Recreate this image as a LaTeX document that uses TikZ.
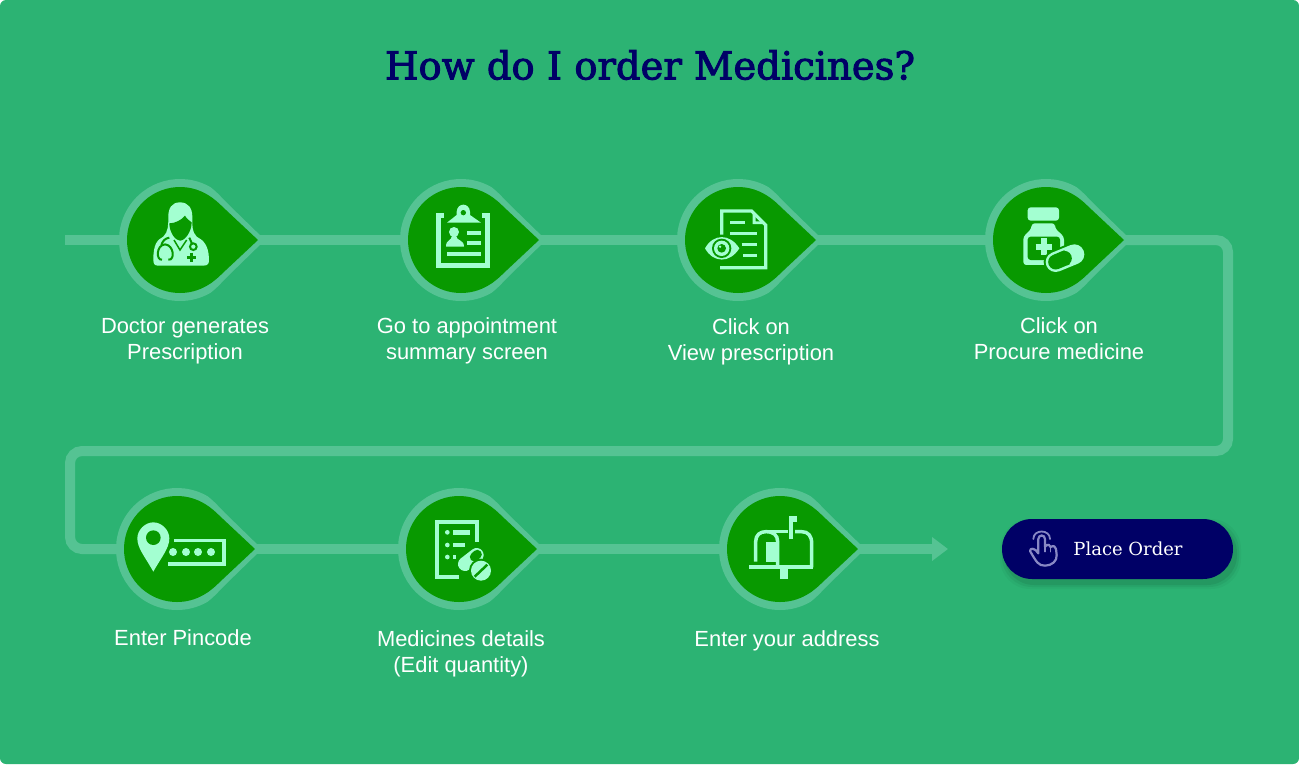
\documentclass[tikz,border=0pt]{standalone}
\usepackage{fontspec}
\setmainfont{Liberation Sans}
\newfontfamily\slabfont{DejaVu Serif}
\newfontfamily\titlefont[FakeBold=2.5]{DejaVu Serif}
\usetikzlibrary{positioning, calc, arrows.meta}

\tikzset{
    droppin/.pic={
        \fill[ringgreen] (85pt,0pt) -- (48pt,36pt) .. controls (42pt,42pt) and (38pt,47pt) .. (60:61pt) arc (60:300:61pt) .. controls (38pt,-47pt) and (42pt,-42pt) .. (48pt,-36pt) -- cycle;
        \fill[pingreen] (78pt,0pt) -- (46pt,30pt) .. controls (38pt,37.5pt) and (35pt,41pt) .. (60:53pt) arc (60:300:53pt) .. controls (35pt,-41pt) and (38pt,-37.5pt) .. (46pt,-30pt) -- cycle;
    },
    iconbox/.style 2 args={shift={(#1,-#2)}, x=0.3333pt, y=-0.3333pt},
    iconfill/.style={fill=mint},
    holefill/.style={fill=pingreen},
    iconline/.style={draw=mint, line width=#1},
    holeline/.style={draw=pingreen, line width=#1},
    steplabel/.style={text=white, align=center, font=\fontsize{21.9}{26}\selectfont}
}

\begin{document}
\begin{tikzpicture}[x=1pt, y=1pt]
    % Colours
    \definecolor{bggreen}{RGB}{44, 179, 115}
    \definecolor{ringgreen}{RGB}{85, 195, 147}
    \definecolor{pingreen}{RGB}{8, 153, 0}
    \definecolor{mint}{RGB}{163, 255, 209}
    \definecolor{navybtn}{RGB}{0, 0, 102}
    \definecolor{handcol}{RGB}{136, 136, 196}

    % 1. Background
    \useasboundingbox (0,0) rectangle (1299,-764);
    \fill[bggreen, rounded corners=6pt] (0,0) rectangle (1299,-764);

    % 2. Title
    \node[text=navybtn, font=\titlefont\fontsize{38.5}{44}\selectfont] (title) at (650,-65) {How do I order Medicines?};

    % 3. Pin positions and turning points of the line
    \coordinate (lineStart) at (65,-240);
    \coordinate (doctor) at (180,-240);
    \coordinate (clipboard) at (461,-240);
    \coordinate (viewdoc) at (738,-240);
    \coordinate (bottle) at (1046,-240);
    \coordinate (turnA) at (1228,-451);
    \coordinate (turnB) at (70,-451);
    \coordinate (pincode) at (177,-549);
    \coordinate (medlist) at (459,-549);
    \coordinate (mailbox) at (780,-549);
    \coordinate (arrowEnd) at (948,-549);

    % 4. Connecting line
    \draw[ringgreen, line width=10pt] (lineStart) -- (doctor) -- (clipboard) -- (viewdoc) -- (bottle);
    \draw[ringgreen, line width=10pt, rounded corners=12pt] (bottle) -| (turnA) -- (turnB) |- (pincode);
    \draw[ringgreen, line width=10pt] (pincode) -- (medlist) -- (mailbox);
    \draw[ringgreen, line width=10pt, -{Triangle[length=16pt, width=23pt]}] (mailbox) -- (arrowEnd);

    % 5. Pins
    \foreach \p in {doctor, clipboard, viewdoc, bottle, pincode, medlist, mailbox} {
        \pic at (\p) {droppin};
    }

    % 6. Step labels
    \node[steplabel] (lblDoctor) at (185,-341) {Doctor generates\\Prescription};
    \node[steplabel] (lblClipboard) at (467,-341) {Go to appointment\\summary screen};
    \node[steplabel] (lblView) at (751,-342) {Click on\\View prescription};
    \node[steplabel] (lblProcure) at (1059,-339) {Click on\\Procure medicine};
    \node[steplabel] (lblPincode) at (183,-638) {Enter Pincode};
    \node[steplabel] (lblMedlist) at (461,-653.5) {Medicines details\\(Edit quantity)};
    \node[steplabel] (lblAddress) at (787,-640.5) {Enter your address};

    % 7. Button with soft shadow
    \foreach \g/\o in {5/0.03, 3/0.05, 1/0.07} {
        \fill[black, opacity=\o, rounded corners=30pt] (1002+3-\g,-519-5+\g) rectangle (1233+3+\g,-579-5-\g);
    }
    \node[fill=navybtn, rounded corners=30pt, minimum width=231pt, minimum height=60pt, inner sep=0pt] (placeBtn) at (1117.5,-549) {};
    \node[text=white, font=\slabfont\fontsize{18}{22}\selectfont] (placeLbl) at (1128,-549) {Place Order};

    % 8. Icons, each drawn in a 3x grid of its own
    % Doctor
    \begin{scope}[iconbox={140}{195}]
        \fill[iconfill] (120,22) .. controls (95,22) and (85,40) .. (85,65) .. controls (85,90) and (85,110) .. (70,125) .. controls (50,135) and (40,150) .. (40,195) .. controls (40,208) and (45,212) .. (55,212) -- (190,212) .. controls (205,212) and (208,205) .. (207,190) .. controls (205,150) and (190,135) .. (170,125) .. controls (155,110) and (157,90) .. (157,65) .. controls (157,40) and (145,22) .. (120,22) -- cycle;
        \fill[holefill] (88,85) .. controls (105,85) and (125,75) .. (135,62) .. controls (140,72) and (150,78) .. (155,82) .. controls (155,110) and (135,137) .. (120,137) .. controls (105,137) and (88,110) .. (88,85) -- cycle;
        \draw[holeline=1.5pt] (102,135) -- (120,165) -- (140,135);
        \draw[holeline=2pt] (88,128) .. controls (75,130) and (68,138) .. (64,150);
        \draw[holeline=2pt] (75,148) .. controls (48,150) and (48,197) .. (66,194);
        \draw[holeline=2pt] (75,148) .. controls (102,150) and (106,197) .. (85,194);
        \draw[holeline=2pt, fill=mint] (160,155) circle[radius=10];
        \draw[holeline=2pt] (148,128) -- (156,146);
        \draw[holeline=2.8pt] (141,187) -- (169,187);
        \draw[holeline=2.8pt] (155,173) -- (155,201);
    \end{scope}

    % Clipboard
    \begin{scope}[iconbox={425}{195}]
        \draw[iconline=5.5pt] (56,62) -- (41,62) -- (41,211) -- (187,211) -- (187,62) -- (172,62);
        \fill[iconfill] (66,83) -- (95,60) -- (95,50) .. controls (97,22) and (133,22) .. (135,50) -- (135,60) -- (168,83) -- cycle;
        \fill[holefill] (115,53) circle[radius=8];
        \fill[iconfill] (87,111) circle[radius=15];
        \fill[iconfill] (63,155) .. controls (63,133) and (80,138) .. (81,122) -- (93,122) .. controls (94,138) and (117,133) .. (117,155) -- cycle;
        \draw[iconline=4pt] (126,114) -- (168,114);
        \draw[iconline=4pt] (126,144) -- (168,144);
        \draw[iconline=4.5pt] (66,177) -- (168,177);
    \end{scope}

    % Document with eye
    \begin{scope}[iconbox={700}{200}]
        \draw[iconline=3.3pt] (65,118) -- (65,33) -- (155,33) -- (197,75) -- (197,203) -- (60,203);
        \fill[iconfill] (158,33) -- (158,72) -- (197,72) -- (190,64) -- (167,64) -- (167,42) -- cycle;
        \draw[iconline=3.5pt] (90,67) -- (135,67);
        \draw[iconline=3.5pt] (90,100) -- (170,100);
        \draw[iconline=3.5pt] (125,133) -- (170,133);
        \draw[iconline=3.5pt] (130,167) -- (170,167);
        \fill[holefill] (5,145) .. controls (35,90) and (95,90) .. (128,145) .. controls (95,200) and (35,200) .. (5,145) -- cycle;
        \fill[iconfill] (15,145) .. controls (40,100) and (90,100) .. (118,145) .. controls (90,190) and (40,190) .. (15,145) -- cycle;
        \fill[holefill] (65,145) circle[radius=29];
        \fill[iconfill] (65,145) circle[radius=23];
        \fill[holefill] (65,145) circle[radius=13];
        \fill[iconfill] (60,140) circle[radius=4];
    \end{scope}

    % Bottle and capsule
    \begin{scope}[iconbox={1015}{200}]
        \fill[iconfill, rounded corners=3pt] (38,22) rectangle (132,62);
        \fill[iconfill, rounded corners=3pt] (50,70) -- (120,70) -- (120,85) -- (147,110) -- (147,195) -- (25,195) -- (25,110) -- (50,85) -- cycle;
        \fill[holefill, rounded corners=3pt] (38,110) rectangle (135,180);
        \draw[iconline=6pt] (87,115) -- (87,165);
        \draw[iconline=6pt] (62,140) -- (112,140);
        \draw[holeline=24pt, line cap=round] (122,186) -- (178,163);
        \draw[iconline=20pt, line cap=round] (122,186) -- (178,163);
        \draw[holeline=15pt, line cap=round] (122,186) -- (148,175);
        \draw[holeline=15pt] (148,175) -- (156,172);
    \end{scope}

    % Map pin and code box
    \begin{scope}[iconbox={130}{515}]
        \fill[iconfill] (70,170) .. controls (45,125) and (22,100) .. (22,70) .. controls (22,45) and (45,22) .. (70,22) .. controls (95,22) and (118,45) .. (118,70) .. controls (118,100) and (95,125) .. (70,170) -- cycle;
        \fill[holefill] (70,68) circle[radius=22];
        \draw[iconline=3.3pt] (132,76) -- (282,76) -- (282,147) -- (114,147);
        \foreach \dx in {129,168,204,243} {
            \fill[iconfill] (\dx,111) circle[radius=12];
        }
    \end{scope}

    % Prescription list and pills
    \begin{scope}[iconbox={425}{510}]
        \draw[iconline=4pt] (102,201) -- (36,201) -- (36,36) -- (156,36) -- (156,96);
        \foreach \ly in {67,105,141} {
            \fill[iconfill] (67,\ly) circle[radius=7];
        }
        \draw[iconline=4.5pt] (84,67) -- (135,67);
        \draw[iconline=4.5pt] (84,105) -- (120,105);
        \draw[iconline=3.5pt] (84,141) -- (92,141);
        \draw[holeline=18pt, line cap=round] (120,162) -- (155,135);
        \draw[iconline=14pt, line cap=round] (120,162) -- (155,135);
        \draw[holeline=9pt, line cap=round] (148,141) -- (157,133);
        \fill[holefill] (168,182) circle[radius=36];
        \fill[iconfill] (168,182) circle[radius=30];
        \draw[holeline=2.5pt] (149,200) -- (187,164);
    \end{scope}

    % Mailbox
    \begin{scope}[iconbox={740}{510}]
        \draw[iconline=3.5pt] (47,155) -- (47,95) .. controls (47,75) and (60,65) .. (78,65) .. controls (100,65) and (113,75) .. (113,95) -- (113,172);
        \draw[iconline=3.5pt] (78,65) -- (145,65);
        \draw[iconline=3.5pt] (165,65) -- (185,65) .. controls (205,65) and (215,78) .. (215,100) -- (215,172);
        \draw[iconline=4pt] (28,172) -- (218,172);
        \fill[iconfill] (78,95) rectangle (107,155);
        \fill[iconfill] (120,178) rectangle (145,208);
        \draw[iconline=4pt] (152,88) -- (152,25);
        \fill[iconfill] (146,18) rectangle (170,35);
    \end{scope}

    % Hand on the button
    \begin{scope}[iconbox={1020}{525}]
        \draw[handcol, line width=2.2pt, line join=round, line cap=round] (55,85) -- (55,42) .. controls (55,28) and (75,28) .. (75,42) -- (75,65) .. controls (85,55) and (90,60) .. (92,66) .. controls (100,60) and (108,65) .. (108,72) -- (110,90) .. controls (112,108) and (95,122) .. (75,122) .. controls (55,122) and (50,112) .. (30,78) .. controls (30,68) and (45,68) .. (55,85) -- cycle;
        \draw[handcol, line width=1.5pt, line cap=round] (75,65) -- (75,80);
        \draw[handcol, line width=1.5pt, line cap=round] (92,66) -- (92,80);
        \draw[handcol, line width=1.8pt, line cap=round] (40,42) .. controls (40,12) and (90,12) .. (90,42);
    \end{scope}

\end{tikzpicture}
\end{document}
